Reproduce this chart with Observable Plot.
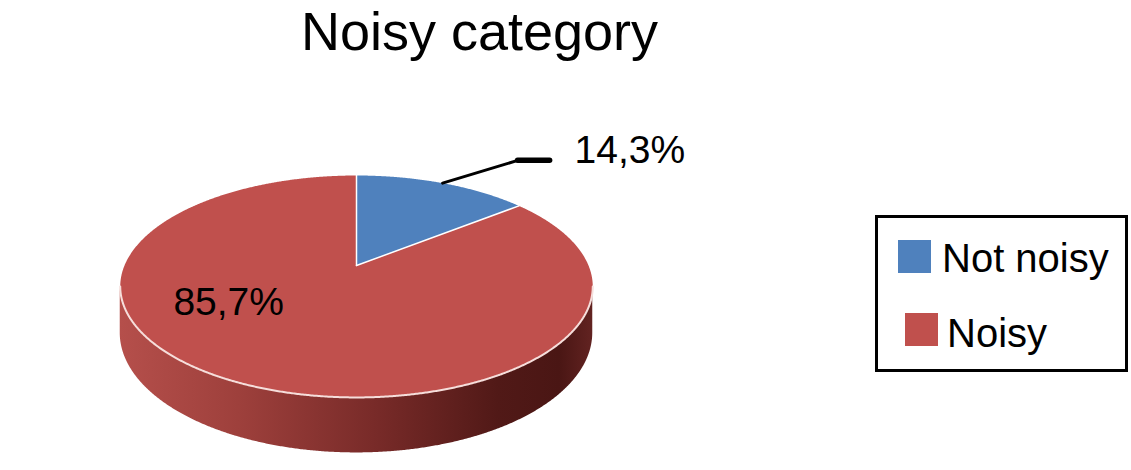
<!DOCTYPE html>
<html><head><meta charset="utf-8">
<script src="https://cdn.jsdelivr.net/npm/d3@7"></script>
<script src="https://cdn.jsdelivr.net/npm/@observablehq/plot@0.6"></script>
<style>
body{margin:0;background:#fff;font-family:"Liberation Sans",Arial,Helvetica,sans-serif;}
#wrap{position:relative;width:1131px;height:470px;overflow:hidden;background:#fff}
#chart{position:absolute;left:0;top:0}
#title{position:absolute;left:0;width:959px;top:3.5px;text-align:center;font-size:54px;line-height:54px;color:#000;white-space:nowrap}
#legend{position:absolute;left:875px;top:215px;width:247px;height:151px;border:3px solid #000;background:#fff}
.sw{position:absolute;width:33px;height:33px}
.lt{position:absolute;font-size:40px;line-height:40px;color:#000;white-space:nowrap}
</style></head>
<body><div id="wrap"><div id="chart"></div><div id="title">Noisy category</div><div id="legend"></div></div>
<script>
// ---- data ----
const categories = ["Not noisy", "Noisy"];
const shares = [14.3, 85.7];
const labels = ["14,3%", "85,7%"];
const colors = ["#4f81bd", "#c0504d"];

// ---- layout (pixels) ----
const W = 1131, H = 470;
const geo = {cx: 356, cy: 265, R: 232, Ry: 107, p: 0.189, h: 45};
function proj(a, depth, f) {
  const X = Math.sin(a) * f, Z = Math.cos(a) * f;
  const w = 1 / (1 + geo.p * Z);
  return [geo.cx + geo.R * X * w, geo.cy + (-geo.Ry * Z + depth) * w];
}

const data = categories.map((c, i) => ({category: c, share: shares[i], label: labels[i], color: colors[i]}));
const arcs = d3.pie().sort(null).value(d => d.share)(data);

// top face polygons
const step = 0.005;
const topRows = [];
arcs.forEach(arc => {
  const c = arc.data.category;
  topRows.push({slice: c, x: geo.cx, y: geo.cy});
  for (let a = arc.startAngle; a < arc.endAngle; a += step) {
    const [x, y] = proj(a, 0, 1);
    topRows.push({slice: c, x, y});
  }
  const [xe, ye] = proj(arc.endAngle, 0, 1);
  topRows.push({slice: c, x: xe, y: ye});
  topRows.push({slice: c, x: geo.cx, y: geo.cy});
});

// side band (visible front part)
const aVis = Math.acos(-geo.p);
const sideRows = [];
for (let a = aVis; a <= 2 * Math.PI - aVis + 1e-9; a += step) {
  const [x, y1] = proj(a, 0, 1);
  const [, y2] = proj(a, geo.h, 1);
  sideRows.push({x, y1, y2});
}
const rimRows = sideRows.map(d => ({x: d.x, y: d.y1}));

// slice boundary edges
const edgeRows = [];
arcs.forEach(arc => {
  const [x, y] = proj(arc.startAngle, 0, 1);
  edgeRows.push({slice: arc.data.category, x: geo.cx, y: geo.cy}, {slice: arc.data.category, x, y});
});

// labels
const blueArc = arcs[0], redArc = arcs[1];
const mid = (blueArc.startAngle + blueArc.endAngle) / 2;
const [sx, sy] = proj(mid, 0, 1);
const elbow = {x: sx + 76, y: sy - 23};
const leadEnd = {x: elbow.x + 31, y: elbow.y};
const leader1 = [{x: sx, y: sy}, {x: elbow.x, y: elbow.y}];
const leader2 = [{x: elbow.x - 1, y: elbow.y}, {x: leadEnd.x, y: leadEnd.y}];
const [rlx, rly] = proj(240 * Math.PI / 180, 0, 0.6);
const labelRows = [
  {text: blueArc.data.label, x: leadEnd.x + 25, y: leadEnd.y - 9.5, anchor: "start"},
  {text: redArc.data.label, x: rlx, y: rly + 3, anchor: "middle"}
];

const chart = Plot.plot({
  width: W, height: H, margin: 0,
  style: {fontFamily: "Liberation Sans, Arial, sans-serif", background: "transparent"},
  x: {domain: [0, W], range: [0, W], axis: null},
  y: {domain: [0, H], range: [0, H], axis: null},
  marks: [
    Plot.areaY(sideRows, {x: "x", y1: "y1", y2: "y2", fill: "url(#sideGrad)", curve: "linear"}),
    Plot.line(topRows.filter(d => d.slice === categories[1]), {x: "x", y: "y", fill: colors[1], stroke: "none"}),
    Plot.line(topRows.filter(d => d.slice === categories[0]), {x: "x", y: "y", fill: colors[0], stroke: "none"}),
    Plot.line(rimRows, {x: "x", y: "y", stroke: "#f6dedb", strokeWidth: 2}),
    Plot.line(edgeRows, {x: "x", y: "y", z: "slice", stroke: "#ffffff", strokeWidth: 1.5}),
    Plot.line(leader1, {x: "x", y: "y", stroke: "#000", strokeWidth: 3}),
    Plot.line(leader2, {x: "x", y: "y", stroke: "#000", strokeWidth: 5.5}),
    Plot.text(labelRows.filter(d => d.anchor === "start"), {x: "x", y: "y", text: "text", textAnchor: "start", fontSize: 39, fill: "#000"}),
    Plot.text(labelRows.filter(d => d.anchor === "middle"), {x: "x", y: "y", text: "text", textAnchor: "middle", fontSize: 39, fill: "#000"})
  ]
});

// gradient for the side
const defs = d3.select(chart).insert("defs", ":first-child");
const g = defs.append("linearGradient").attr("id", "sideGrad").attr("x1", 0).attr("x2", 1).attr("y1", 0).attr("y2", 0);
[[0, "#b54f4b"], [0.25, "#9e403c"], [0.55, "#772a28"], [0.8, "#511917"], [0.93, "#4a1614"], [1, "#622321"]]
  .forEach(([o, c]) => g.append("stop").attr("offset", o).attr("stop-color", c));

document.getElementById("chart").appendChild(chart);

// legend
const legend = document.getElementById("legend");
const legendPos = [{sx: 20, sy: 22, tx: 64, ty: 20}, {sx: 27, sy: 95, tx: 69, ty: 95}];
categories.forEach((c, i) => {
  const p = legendPos[i];
  const sw = document.createElement("div");
  sw.className = "sw"; sw.style.left = p.sx + "px"; sw.style.top = p.sy + "px"; sw.style.background = colors[i];
  const t = document.createElement("div");
  t.className = "lt"; t.style.left = p.tx + "px"; t.style.top = p.ty + "px"; t.textContent = c;
  legend.appendChild(sw); legend.appendChild(t);
});
</script>
</body></html>
